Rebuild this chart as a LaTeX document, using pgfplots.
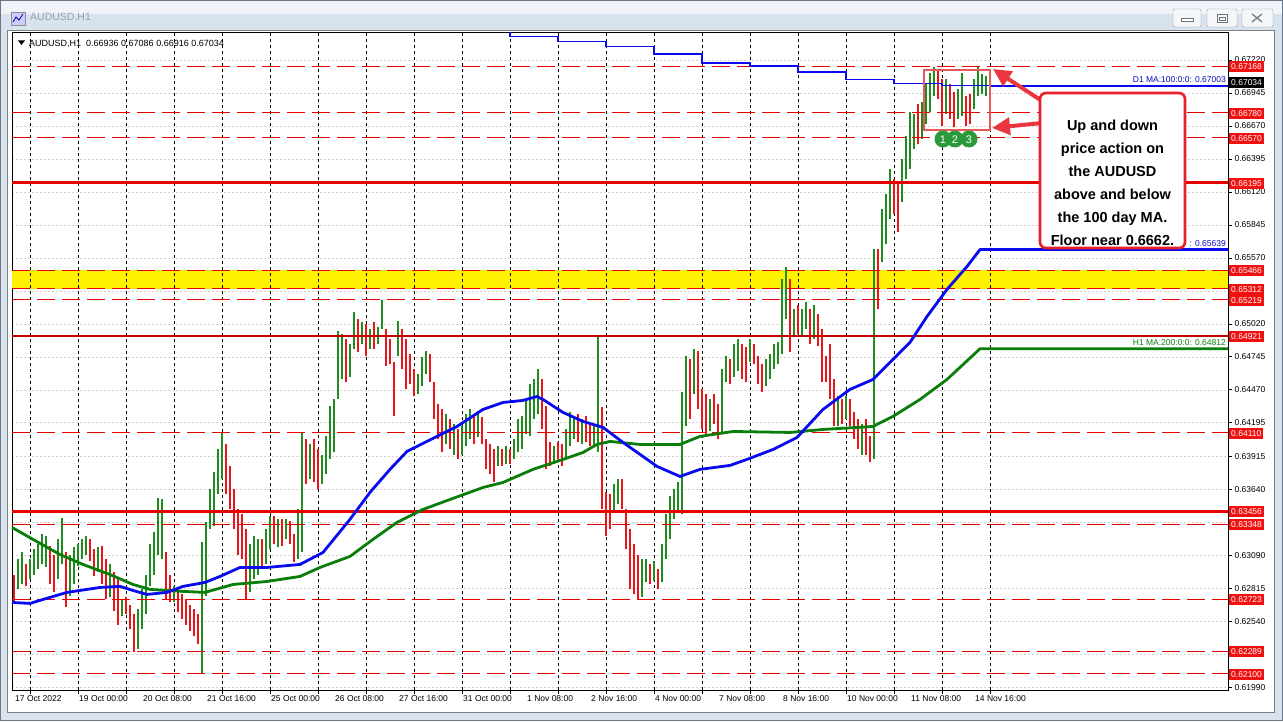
\documentclass[border=0pt]{standalone}
\usepackage{fontspec}
\setmainfont{Liberation Sans}
\usepackage{pgfplots}
\usepackage{pgfplotstable}
\pgfplotsset{compat=1.18}
\usetikzlibrary{arrows.meta}
\definecolor{barG}{HTML}{1E8C1E}
\definecolor{barR}{HTML}{E8161B}
\definecolor{maBlue}{HTML}{0A0AEE}
\definecolor{maGreen}{HTML}{0A7D0A}
\definecolor{lvl}{HTML}{E60000}
\definecolor{lvlbox}{HTML}{F01010}
\definecolor{winbg}{HTML}{D9E3EE}
\definecolor{winborder}{HTML}{6A7785}
\definecolor{titletext}{HTML}{93A1AF}
\definecolor{annred}{HTML}{E8202A}
\definecolor{rectred}{HTML}{E85A5A}
\definecolor{circg}{HTML}{2A9A3A}
\newcommand\tf{\fontsize{8.5}{10}\selectfont}

\pgfplotstableread{
i lo hi
2 0.62805 0.63055
4 0.62846 0.63113
8 0.62888 0.63055
10 0.62929 0.63138
12 0.62971 0.63180
14 0.63013 0.63263
16 0.62988 0.63247
22 0.62888 0.63222
24 0.63013 0.63397
28 0.62747 0.63096
30 0.62846 0.63155
32 0.62997 0.63180
34 0.63055 0.63222
36 0.63096 0.63247
42 0.62954 0.63155
48 0.62738 0.63013
54 0.62579 0.62721
62 0.62304 0.62638
64 0.62471 0.62805
66 0.62596 0.62929
68 0.62830 0.63180
70 0.62929 0.63280
72 0.63096 0.63564
74 0.63055 0.63555
80 0.62696 0.62830
94 0.62096 0.63197
96 0.62747 0.63364
98 0.63305 0.63639
100 0.63330 0.63781
102 0.63597 0.63972
104 0.63722 0.64114
118 0.62780 0.63180
120 0.62888 0.63247
122 0.62929 0.63222
126 0.63013 0.63305
128 0.63138 0.63414
132 0.63155 0.63389
136 0.63222 0.63389
142 0.63055 0.63472
144 0.63113 0.64114
148 0.63722 0.64014
154 0.63680 0.63930
156 0.63764 0.64081
158 0.63889 0.64331
160 0.63947 0.64389
162 0.64389 0.64956
164 0.64556 0.64931
168 0.64573 0.64848
170 0.64806 0.65115
174 0.64848 0.65032
178 0.64806 0.64973
182 0.64848 0.64990
184 0.64973 0.65215
192 0.64748 0.65040
202 0.64431 0.64598
204 0.64498 0.64740
206 0.64598 0.64790
216 0.64014 0.64265
220 0.63930 0.64181
224 0.63930 0.64164
226 0.63997 0.64265
228 0.64056 0.64306
232 0.64072 0.64289
242 0.63831 0.63997
246 0.63847 0.63997
250 0.63889 0.64056
252 0.63947 0.64223
254 0.63972 0.64248
256 0.64097 0.64389
258 0.64081 0.64514
260 0.64223 0.64556
262 0.64265 0.64640
270 0.63847 0.63997
276 0.63889 0.64139
278 0.63997 0.64281
280 0.64056 0.64239
284 0.64014 0.64223
290 0.63997 0.64164
292 0.63947 0.64915
300 0.63447 0.63680
302 0.63514 0.63722
314 0.62738 0.63055
316 0.62863 0.63055
320 0.62871 0.63038
324 0.62863 0.63180
326 0.63055 0.63430
328 0.63222 0.63580
330 0.63389 0.63639
332 0.63447 0.63697
334 0.63430 0.64448
336 0.64164 0.64748
340 0.64431 0.64806
348 0.64122 0.64389
354 0.64097 0.64640
356 0.64531 0.64748
360 0.64573 0.64848
362 0.64623 0.64890
368 0.64698 0.64890
376 0.64498 0.64723
378 0.64556 0.64765
380 0.64640 0.64848
382 0.64681 0.64865
384 0.64765 0.65390
386 0.65057 0.65498
390 0.64915 0.65140
394 0.64915 0.65140
396 0.64973 0.65198
400 0.64890 0.65181
412 0.64164 0.64414
416 0.64223 0.64414
424 0.63930 0.64181
430 0.63889 0.65640
434 0.65532 0.65974
436 0.65682 0.66099
438 0.65891 0.66308
444 0.66032 0.66391
446 0.66224 0.66583
448 0.66308 0.66783
450 0.66474 0.66766
454 0.66558 0.66866
456 0.66683 0.67016
458 0.66783 0.67116
460 0.66916 0.67158
466 0.66766 0.67058
472 0.66725 0.66975
474 0.66750 0.67116
480 0.66808 0.67058
482 0.66916 0.67166
484 0.66933 0.67100
486 0.66916 0.67086
}\greenbars

\pgfplotstableread{
i lo hi
0 0.62696 0.62929
6 0.62830 0.63013
18 0.62846 0.63164
20 0.62780 0.63096
26 0.62654 0.63113
38 0.63038 0.63222
40 0.62913 0.63138
44 0.62846 0.63164
46 0.62721 0.63055
50 0.62621 0.62946
52 0.62512 0.62888
56 0.62596 0.62738
58 0.62471 0.62679
60 0.62287 0.62596
76 0.62721 0.63113
78 0.62696 0.62929
82 0.62613 0.62805
84 0.62554 0.62763
86 0.62512 0.62721
88 0.62454 0.62679
90 0.62413 0.62638
92 0.62346 0.62596
106 0.63597 0.64014
108 0.63472 0.63831
110 0.63305 0.63639
112 0.63096 0.63472
114 0.63055 0.63430
116 0.62721 0.63305
124 0.62971 0.63222
130 0.63180 0.63414
134 0.63164 0.63389
138 0.63180 0.63372
140 0.63030 0.63263
146 0.63680 0.64056
150 0.63697 0.64056
152 0.63639 0.63972
166 0.64531 0.64890
172 0.64781 0.65057
176 0.64748 0.65015
180 0.64806 0.65032
186 0.64665 0.64973
188 0.64681 0.64890
190 0.64248 0.64698
194 0.64640 0.64973
196 0.64473 0.64890
198 0.64514 0.64765
200 0.64414 0.64640
208 0.64531 0.64765
210 0.64223 0.64531
212 0.64056 0.64348
214 0.63947 0.64306
218 0.63972 0.64223
222 0.63889 0.64139
230 0.64014 0.64265
234 0.64014 0.64239
236 0.63806 0.64056
238 0.63764 0.64014
240 0.63697 0.63972
244 0.63831 0.63972
248 0.63847 0.63972
264 0.64139 0.64556
266 0.63806 0.64331
268 0.63831 0.64031
272 0.63889 0.64031
274 0.63831 0.64014
282 0.64031 0.64265
286 0.64031 0.64248
288 0.63997 0.64181
294 0.63472 0.64323
296 0.63247 0.63614
298 0.63305 0.63597
304 0.63472 0.63722
306 0.63138 0.63472
308 0.62805 0.63305
310 0.62763 0.63180
312 0.62721 0.63096
318 0.62846 0.63013
322 0.62805 0.62971
338 0.64223 0.64723
342 0.64306 0.64790
344 0.64139 0.64473
346 0.64081 0.64431
350 0.64181 0.64431
352 0.64056 0.64348
358 0.64514 0.64723
364 0.64556 0.64848
366 0.64531 0.64823
370 0.64681 0.64848
372 0.64514 0.64748
374 0.64448 0.64681
388 0.64781 0.65390
392 0.64931 0.65181
398 0.64848 0.65140
402 0.64831 0.65098
404 0.64531 0.64973
406 0.64531 0.64748
408 0.64389 0.64848
410 0.64164 0.64556
414 0.64181 0.64389
418 0.64164 0.64389
420 0.64056 0.64281
422 0.63972 0.64223
426 0.63930 0.64223
428 0.63864 0.64081
432 0.65140 0.65640
440 0.65932 0.66224
442 0.65782 0.66182
452 0.66516 0.66850
462 0.66891 0.67142
464 0.66666 0.67058
468 0.66725 0.67016
470 0.66658 0.66950
476 0.66666 0.66916
478 0.66683 0.66933
}\redbars

\pgfplotstableread{
i p
8 0.67454
32 0.67454
56 0.67454
80 0.67454
104 0.67454
128 0.67454
152 0.67454
176 0.67454
200 0.67454
224 0.67454
248 0.67454
272 0.67454
296 0.67454
320 0.67454
344 0.67454
368 0.67454
392 0.67454
416 0.67454
440 0.67454
464 0.67454
488 0.67454
}\separators

\begin{document}
\begin{tikzpicture}
\useasboundingbox (0,0) rectangle (1283pt,721pt);
% ---------- window chrome ----------
\begin{scope}[x=1pt,y=-1pt,shift={(0pt,721pt)}]
  \fill[winbg] (0,0) rectangle (1283,721);
  \fill[white!60!winbg] (1,1) rectangle (1282,14);
  \draw[winborder] (0.5,0.5) rectangle (1282.5,720.5);
  % icon
  \draw[black!45, fill=white!80!blue] (11,12) rectangle (25,25);
  \draw[blue!60!black, line width=0.8pt] (13,22) -- (16,17) -- (19,20) -- (23,14);
  \node[anchor=west, text=titletext, font=\fontsize{10.5}{12}\selectfont, inner sep=0pt] at (30,18) {AUDUSD,H1};
  % buttons
  \foreach \a/\b in {1173/1201, 1207/1237, 1242/1273}{
    \draw[black!40, fill=white!70!winbg, rounded corners=2pt] (\a,9) rectangle (\b,27);
  }
  \draw[black!55, fill=white] (1181,18) rectangle (1193,21);
  \draw[black!55] (1217,14) rectangle (1227,22); \draw[black!55] (1219,17) rectangle (1225,20);
  \draw[black!50, line width=1.4pt] (1252,14) -- (1262,22) (1252,22) -- (1262,14);
  % client area
  \fill[white] (8,31) rectangle (1274,712);
  \draw[black!50] (7.5,30.5) rectangle (1274.5,712.5);
\end{scope}

\begin{axis}[
  at={(12pt,31pt)}, anchor=south west,
  scale only axis, width=1216pt, height=658pt,
  xmin=-1, xmax=607, ymin=0.619659, ymax=0.674538,
  axis line style={black, line width=0.8pt},
  tick align=outside, major tick length=4pt,
  tick style={black, line width=0.6pt},
  xtick pos=bottom, ytick pos=right, yticklabel pos=right,
  xtick={8,32,56,80,104,128,152,176,200,224,248,272,296,320,344,368,392,416,440,464,488},
  xticklabels={},
  ytick={0.61990,0.62265,0.62540,0.62815,0.63090,0.63365,0.63640,0.63915,0.64195,0.64470,0.64745,0.65020,0.65295,0.65570,0.65845,0.66120,0.66395,0.66670,0.66945,0.67220},
  yticklabels={0.61990,,0.62540,0.62815,0.63090,,0.63640,0.63915,0.64195,0.64470,0.64745,0.65020,,0.65570,0.65845,0.66120,0.66395,0.66670,0.66945,0.67220},
  yticklabel style={font=\tf, anchor=west, xshift=-1pt},
  ymajorgrids, grid style={black!18, dash pattern=on 2pt off 2pt, line width=0.5pt},
]
% yellow zone
\addplot[draw=none, fill=yellow, forget plot] coordinates {(-1,0.65312) (607,0.65312) (607,0.65466) (-1,0.65466)} -- cycle;
% day separators
\addplot[ycomb, black, line width=0.8pt, dash pattern=on 3pt off 3pt, mark=none, forget plot] table[x=i, y=p] {\separators};
% price bars (low-high ranges)
\addplot[draw=none, mark=none, forget plot,
  error bars/.cd, y dir=plus, y explicit, error mark=none,
  error bar style={draw=barG, solid, line width=1.1pt}]
  table[x=i, y=lo, y error plus expr={\thisrow{hi}-\thisrow{lo}}] {\greenbars};
\addplot[draw=none, mark=none, forget plot,
  error bars/.cd, y dir=plus, y explicit, error mark=none,
  error bar style={draw=barR, solid, line width=1.1pt}]
  table[x=i, y=lo, y error plus expr={\thisrow{hi}-\thisrow{lo}}] {\redbars};
% level lines
\addplot[lvl, line width=1pt, dash pattern=on 18pt off 7pt, forget plot] coordinates {(-1,0.67168) (607,0.67168)};
\addplot[lvl, line width=1pt, dash pattern=on 18pt off 7pt, forget plot] coordinates {(-1,0.66780) (607,0.66780)};
\addplot[lvl, line width=1pt, dash pattern=on 18pt off 7pt, forget plot] coordinates {(-1,0.66570) (607,0.66570)};
\addplot[lvl, line width=1pt, dash pattern=on 18pt off 7pt, forget plot] coordinates {(-1,0.65466) (607,0.65466)};
\addplot[lvl, line width=1pt, dash pattern=on 18pt off 7pt, forget plot] coordinates {(-1,0.65312) (607,0.65312)};
\addplot[lvl, line width=1pt, dash pattern=on 18pt off 7pt, forget plot] coordinates {(-1,0.65219) (607,0.65219)};
\addplot[lvl, line width=1pt, dash pattern=on 18pt off 7pt, forget plot] coordinates {(-1,0.64110) (607,0.64110)};
\addplot[lvl, line width=1pt, dash pattern=on 18pt off 7pt, forget plot] coordinates {(-1,0.63348) (607,0.63348)};
\addplot[lvl, line width=1pt, dash pattern=on 18pt off 7pt, forget plot] coordinates {(-1,0.62723) (607,0.62723)};
\addplot[lvl, line width=1pt, dash pattern=on 18pt off 7pt, forget plot] coordinates {(-1,0.62289) (607,0.62289)};
\addplot[lvl, line width=1pt, dash pattern=on 18pt off 7pt, forget plot] coordinates {(-1,0.62100) (607,0.62100)};
\addplot[lvl, line width=3pt, forget plot] coordinates {(-1,0.66195) (607,0.66195)};
\addplot[lvl, line width=3pt, forget plot] coordinates {(-1,0.63456) (607,0.63456)};
\addplot[lvl!85!black, line width=2pt, forget plot] coordinates {(-1,0.64921) (607,0.64921)};
% H1 MA 200 (green)
\addplot[maGreen, line width=2.8pt, forget plot] coordinates {
(-1,0.63322) (9.5,0.63222) (23,0.63096) (34.5,0.63013) (48,0.62929) (59.5,0.62846)
(68,0.62805) (84.5,0.62788) (95.5,0.62780) (109.5,0.62846) (126.5,0.62871) (143,0.62913)
(153,0.62988) (168,0.63080) (179.5,0.63222) (191.5,0.63364) (204.5,0.63472) (218,0.63555)
(234.5,0.63655) (244.5,0.63697) (259.5,0.63806) (274.5,0.63889) (284.5,0.63947) (291.5,0.64014)
(298,0.64039) (313,0.64014) (333,0.64014) (343,0.64081) (359.5,0.64122) (388,0.64114)
(404.5,0.64139) (429.5,0.64164) (439.5,0.64248) (453,0.64389) (466.5,0.64556) (483,0.64812) (607,0.64812)};
% H1 MA 100 (blue)
\addplot[maBlue, line width=2.8pt, forget plot] coordinates {
(-1,0.62696) (8,0.62688) (14.5,0.62721) (26.5,0.62780) (36.5,0.62805) (43,0.62821) (53,0.62830)
(59.5,0.62796) (66.5,0.62763) (76.5,0.62780) (84.5,0.62830) (95.5,0.62863) (103,0.62913)
(113,0.62988) (126.5,0.62988) (143,0.63013) (154.5,0.63113) (168,0.63389) (178,0.63614)
(188,0.63806) (196.5,0.63956) (211.5,0.64081) (221.5,0.64164) (234.5,0.64306) (244.5,0.64364)
(254.5,0.64381) (261.5,0.64414) (264.5,0.64389) (274.5,0.64281) (284.5,0.64206) (294.5,0.64156)
(304.5,0.64031) (321.5,0.63831) (333,0.63747) (343,0.63806) (358,0.63839) (366.5,0.63889)
(379.5,0.63972) (391.5,0.64072) (404.5,0.64306) (418,0.64473) (429.5,0.64556) (439.5,0.64723)
(448,0.64865) (456.5,0.65081) (466.5,0.65307) (476.5,0.65498) (483,0.65639) (607,0.65639)};
% D1 MA 100 (steps)
\addplot[maBlue, line width=1.8pt, const plot, forget plot] coordinates {
(224,0.67470) (248,0.67417) (272,0.67375) (296,0.67333) (320,0.67267) (344,0.67192)
(368,0.67167) (392,0.67117) (416,0.67058) (440,0.67025) (464,0.67008) (488,0.67003) (607,0.67003)};
\end{axis}

% ---------- texts and annotations (pixel coordinates) ----------
\begin{scope}[x=1pt,y=-1pt,shift={(0pt,721pt)}]
  % header
  \fill[black] (18,40.5) -- (25,40.5) -- (21.5,45) -- cycle;
  \node[anchor=west, inner sep=0pt, font=\fontsize{9}{10}\selectfont] at (29,43.5) {AUDUSD,H1\ \ 0.66936 0.67086 0.66916 0.67034};
  % x labels
  \foreach \k/\t in {0/17 Oct 2022, 1/19 Oct 00:00, 2/20 Oct 08:00, 3/21 Oct 16:00, 4/25 Oct 00:00,
     5/26 Oct 08:00, 6/27 Oct 16:00, 7/31 Oct 00:00, 8/1 Nov 08:00, 9/2 Nov 16:00, 10/4 Nov 00:00,
     11/7 Nov 08:00, 12/8 Nov 16:00, 13/10 Nov 00:00, 14/11 Nov 08:00, 15/14 Nov 16:00}{
    \node[anchor=west, inner sep=0pt, font=\tf] at ({15+64*\k}, 699) {\t};
  }
  % MA labels (the H1 MA 100 label is mostly covered by the note in the reference)
  \node[anchor=east, inner sep=0pt, text=maBlue!80!black, font=\tf] at (1226,80) {D1 MA:100:0:0: 0.67003};
  \node[anchor=east, inner sep=0pt, text=maBlue!80!black, font=\tf] at (1226,244) {: 0.65639};
  \node[anchor=east, inner sep=0pt, text=maGreen, font=\tf] at (1226,343) {H1 MA:200:0:0: 0.64812};
  % price boxes
  \foreach \yy/\t in {66.8/0.67168, 113.4/0.66780, 138.5/0.66570, 183.5/0.66195, 270.9/0.65466,
     289.4/0.65312, 300.5/0.65219, 336.2/0.64921, 433.5/0.64110, 511.9/0.63456, 524.9/0.63348,
     599.8/0.62723, 651.8/0.62289, 674.5/0.62100}{
    \node[anchor=west, fill=lvlbox, text=white, inner xsep=2pt, inner ysep=0pt, minimum height=11pt, font=\tf] at (1229,\yy) {\t};
  }
  \node[anchor=west, fill=black, text=white, inner xsep=2pt, inner ysep=0pt, minimum height=11pt, font=\tf] at (1229,82.9) {0.67034};
  % highlight rectangle
  \draw[rectred, line width=2.6pt] (924,70) rectangle (990,130);
  % circles
  \foreach \cx/\n in {943/1, 955/2, 969/3}{
    \fill[circg] (\cx,139) circle (8.5);
    \node[text=white, font=\fontsize{11}{12}\selectfont, inner sep=0pt] at (\cx,139.5) {\n};
  }
  % arrows
  \draw[annred!90!white, line width=4pt, -{Triangle[length=18pt,width=17pt]}] (1042,101) -- (993,69);
  \draw[annred!90!white, line width=4pt, -{Triangle[length=18pt,width=17pt]}] (1042,123) -- (992,128);
  % annotation box
  \draw[annred, line width=2.6pt, fill=white, rounded corners=6pt] (1040,93) rectangle (1185,248);
  \node[align=center, font=\bfseries\fontsize{14.5}{23}\selectfont, inner sep=0pt] at (1112.5,183) {Up and down\\price action on\\the AUDUSD\\above and below\\the 100 day MA.\\Floor near 0.6662.};
\end{scope}
\end{tikzpicture}
\end{document}
